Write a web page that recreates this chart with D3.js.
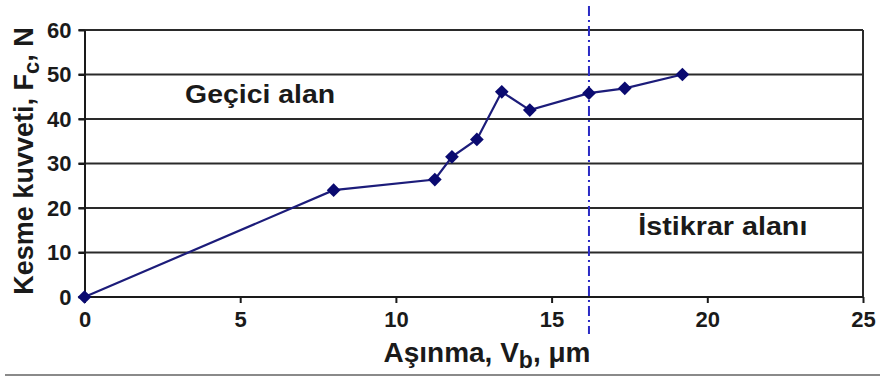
<!DOCTYPE html>
<html><head><meta charset="utf-8">
<script src="https://cdn.jsdelivr.net/npm/d3@7"></script>
<style>
html,body{margin:0;padding:0;background:#fff;}
text{font-family:"Liberation Sans",Arial,sans-serif;font-weight:bold;fill:#1a1a1a;}
</style></head>
<body><svg id="c" width="880" height="383"></svg>
<script>
const wear = [0, 8, 11.25, 11.8, 12.6, 13.4, 14.3, 16.2, 17.35, 19.2];
const force = [0, 24, 26.4, 31.5, 35.4, 46.1, 42.0, 45.8, 46.9, 50.0];
const xTicks = [0, 5, 10, 15, 20, 25];
const yTicks = [0, 10, 20, 30, 40, 50, 60];
const boundary = 16.2;
const regionLabels = [
  {text: "Geçici alan", x: 5.64, y: 43.6, len: 150},
  {text: "İstikrar alanı", x: 20.5, y: 13.9, len: 169}
];

const svg = d3.select("#c");
const x = d3.scaleLinear().domain([0, 25]).range([84.5, 863]);
const y = d3.scaleLinear().domain([0, 60]).range([297, 30]);

// gridlines
svg.append("g").selectAll("line").data(yTicks.filter(d => d > 0)).join("line")
  .attr("x1", x(0) - 6).attr("x2", x(25)).attr("y1", d => y(d)).attr("y2", d => y(d))
  .attr("stroke", "#2a2a2a").attr("stroke-width", 2);
// right border
svg.append("line").attr("x1", x(25)).attr("x2", x(25)).attr("y1", y(60)).attr("y2", y(0))
  .attr("stroke", "#2a2a2a").attr("stroke-width", 2);

// axes
const xAxis = d3.axisBottom(x).tickValues(xTicks).tickSize(6).tickSizeOuter(0).tickFormat(d3.format("d"));
const gx = svg.append("g").attr("transform", `translate(0,${y(0)})`).call(xAxis);
gx.select(".domain").attr("stroke", "#1a1a1a").attr("stroke-width", 2).attr("d", `M${x(0)-6},0H${x(25)}`);
gx.selectAll(".tick line").attr("stroke", "#1a1a1a").attr("stroke-width", 2);
gx.selectAll(".tick text").attr("font-size", 22).attr("y", 14).attr("dy", "0.71em")
  .style("font-family", "'Liberation Sans',Arial,sans-serif").style("font-weight", "bold").attr("fill", "#1a1a1a");

const yAxis = d3.axisLeft(y).tickValues(yTicks).tickSize(6).tickSizeOuter(0).tickFormat(d3.format("d"));
const gy = svg.append("g").attr("transform", `translate(${x(0)},0)`).call(yAxis);
gy.select(".domain").attr("stroke", "#1a1a1a").attr("stroke-width", 2);
gy.selectAll(".tick text").attr("font-size", 22).attr("x", -13)
  .style("font-family", "'Liberation Sans',Arial,sans-serif").style("font-weight", "bold").attr("fill", "#1a1a1a");
gy.selectAll(".tick line").attr("stroke", "#1a1a1a").attr("stroke-width", 2);

// boundary dash-dot line
svg.append("line").attr("x1", x(boundary)).attr("x2", x(boundary)).attr("y1", 6).attr("y2", 334)
  .attr("stroke", "#2b2bc4").attr("stroke-width", 2).attr("stroke-dasharray", "10,4,2,4");

// data line
const pts = wear.map((w, i) => [w, force[i]]);
svg.append("path").datum(pts)
  .attr("d", d3.line().x(d => x(d[0])).y(d => y(d[1])))
  .attr("fill", "none").attr("stroke", "#1c1c7a").attr("stroke-width", 2.2);
svg.append("g").selectAll("path").data(pts).join("path")
  .attr("transform", d => `translate(${x(d[0])},${y(d[1])})`)
  .attr("d", d3.symbol().type(d3.symbolDiamond2).size(120))
  .attr("fill", "#0a0a70");

// region labels
svg.append("g").selectAll("text").data(regionLabels).join("text")
  .attr("x", d => x(d.x)).attr("y", d => y(d.y))
  .attr("text-anchor", "middle").attr("font-size", 25)
  .attr("textLength", d => d.len).attr("lengthAdjust", "spacingAndGlyphs")
  .text(d => d.text);

// x title
const xt = svg.append("text").attr("x", 487).attr("y", 362).attr("text-anchor", "middle").attr("font-size", 28);
xt.append("tspan").text("Aşınma, V");
xt.append("tspan").attr("font-size", 23).attr("dy", 6).text("b");
xt.append("tspan").attr("dy", -6).text(", μm");

// y title
const yt = svg.append("text").attr("transform", "translate(33,161) rotate(-90)").attr("text-anchor", "middle").attr("font-size", 27);
yt.append("tspan").text("Kesme kuvveti, F");
yt.append("tspan").attr("font-size", 22).attr("dy", 6).text("c");
yt.append("tspan").attr("dy", -6).text(", N");

// bottom separator
svg.append("line").attr("x1", 5).attr("x2", 880).attr("y1", 375).attr("y2", 375)
  .attr("stroke", "#8a8a8a").attr("stroke-width", 2);
</script></body></html>
